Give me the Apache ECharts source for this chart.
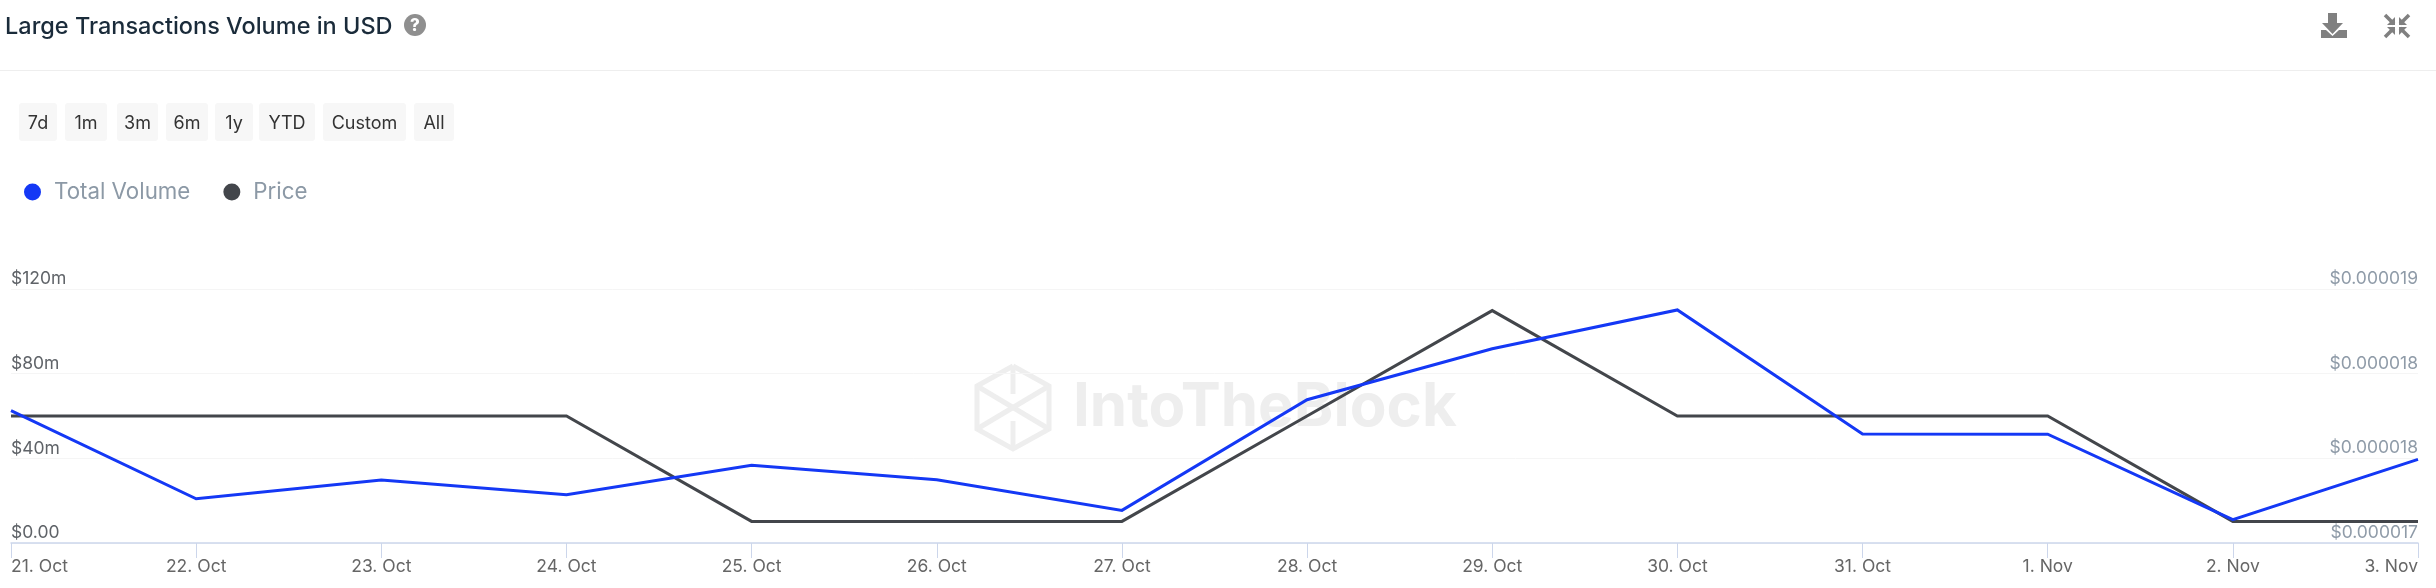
<!DOCTYPE html>
<html>
<head>
<meta charset="utf-8">
<title>Large Transactions Volume in USD</title>
<script src="https://cdn.jsdelivr.net/npm/echarts@6/dist/echarts.min.js"></script>
<style>
  html, body { margin: 0; padding: 0; background: #fff; }
  #main { width: 2436px; height: 588px; }
</style>
</head>
<body>
<div id="main"></div>
<script>
const days = ['21. Oct', '22. Oct', '23. Oct', '24. Oct', '25. Oct', '26. Oct', '27. Oct', '28. Oct', '29. Oct', '30. Oct', '31. Oct', '1. Nov', '2. Nov', '3. Nov'];
const totalVolume = [62.5, 20.9, 29.8, 22.8, 36.7, 29.9, 15.4, 67.7, 91.8, 110.1, 51.5, 51.4, 11.0, 39.5];
const price = [0.000018, 0.000018, 0.000018, 0.000018, 0.00001717, 0.00001717, 0.00001717, 0.000018, 0.00001883, 0.000018, 0.000018, 0.000018, 0.00001717, 0.00001717];
const priceTicks = [0.000017, 0.00001767, 0.00001833, 0.000019];
const ranges = ['7d', '1m', '3m', '6m', '1y', 'YTD', 'Custom', 'All'];
const rangeLeft = [19, 65, 117, 166, 215, 259, 323, 414];
const rangeRight = [57, 107, 158, 208, 253, 315, 406, 454];

const FONT = 'Inter';
const BLUE = '#1438f5';
const DARK = '#43464b';

const chart = echarts.init(document.getElementById('main'), null, { renderer: 'canvas' });

// range buttons, only decoration
const buttons = [];
ranges.forEach((r, i) => {
  buttons.push({
    type: 'rect', z: 1,
    shape: { x: rangeLeft[i], y: 103, width: rangeRight[i] - rangeLeft[i], height: 38, r: 3 },
    style: { fill: '#f7f7f7' }
  });
  buttons.push({
    type: 'text', z: 2,
    x: (rangeLeft[i] + rangeRight[i]) / 2, y: 124,
    style: { text: r, font: '400 18px ' + FONT, fill: '#333', align: 'center', verticalAlign: 'middle' }
  });
});

// watermark logo
const wmLine = { stroke: '#eeeeee', lineWidth: 5, fill: null };
const logo = [
  [[1013, 366], [1049, 386], [1049, 429], [1013, 449], [977, 429], [977, 386], [1013, 366]],
  [[977, 386], [1049, 429]],
  [[977, 429], [1049, 386]],
  [[1013, 366], [1013, 394]],
  [[1013, 421], [1013, 449]]
].map(points => ({ type: 'polyline', z: 0, silent: true, shape: { points }, style: wmLine }));

// header icons
const icons = [
  { type: 'circle', shape: { cx: 415, cy: 25, r: 11 }, style: { fill: '#8f8f8f' } },
  { type: 'text', x: 415, y: 26, style: { text: '?', font: '800 17px ' + FONT, fill: '#fff', align: 'center', verticalAlign: 'middle' } },
  { type: 'polygon', shape: { points: [[2328, 13], [2337, 13], [2337, 23], [2343, 23], [2332.5, 34], [2322, 23], [2328, 23]] }, style: { fill: '#808080' } },
  { type: 'polygon', shape: { points: [[2321, 30], [2326, 30], [2332.5, 36], [2339, 30], [2347, 30], [2347, 38], [2321, 38]] }, style: { fill: '#808080' } }
];
[[2385, 15, 2394, 24], [2409, 15, 2400, 24], [2385, 37, 2394, 28], [2409, 37, 2400, 28]].forEach(a => {
  const sx = a[2] > a[0] ? 1 : -1;
  const sy = a[3] > a[1] ? 1 : -1;
  icons.push({ type: 'line', shape: { x1: a[0], y1: a[1], x2: a[2], y2: a[3] }, style: { stroke: '#808080', lineWidth: 3.5 } });
  icons.push({ type: 'polygon', shape: { points: [[a[2] + sx, a[3] + sy], [a[2] + sx, a[3] - 7 * sy], [a[2] - 7 * sx, a[3] + sy]] }, style: { fill: '#808080' } });
});

chart.setOption({
  animation: false,
  backgroundColor: '#fff',
  textStyle: { fontFamily: FONT },
  title: {
    text: 'Large Transactions Volume in USD',
    left: 5, top: 12,
    padding: 0,
    textStyle: { fontFamily: FONT, fontSize: 23.5, fontWeight: 500, color: '#1a2b3a', lineHeight: 29 }
  },
  legend: {
    left: 24, top: 181,
    padding: 0,
    icon: 'circle',
    itemWidth: 17, itemHeight: 17,
    itemGap: 33,
    data: ['Total Volume', 'Price'],
    textStyle: { fontFamily: FONT, fontSize: 22.3, color: '#8c99a6', padding: [0, 0, 0, 8] }
  },
  grid: { left: 11, right: 18, top: 289, bottom: 45 },
  xAxis: {
    type: 'category',
    boundaryGap: false,
    data: days,
    axisLine: { lineStyle: { color: '#ccd6eb', width: 1.5 } },
    axisTick: { length: 15, lineStyle: { color: '#ccd6eb' } },
    axisLabel: {
      interval: 0, margin: 15,
      fontFamily: FONT, fontSize: 17.5, color: '#666',
      alignMinLabel: 'left', alignMaxLabel: 'right'
    },
    splitLine: { show: false }
  },
  yAxis: [
    {
      type: 'value',
      min: 0, max: 120, interval: 40,
      axisLine: { show: false },
      axisTick: { show: false },
      axisLabel: {
        inside: true, margin: 0,
        verticalAlign: 'bottom', lineHeight: 20,
        fontFamily: FONT, fontSize: 17.5, color: '#5f6368',
        formatter: v => v === 0 ? '$0.00' : '$' + v + 'm'
      },
      splitLine: { lineStyle: { color: '#f5f5f5', width: 1 } }
    },
    {
      type: 'value',
      position: 'right',
      min: 0.000017, max: 0.000019,
      axisLine: { show: false },
      axisTick: { show: false },
      axisLabel: {
        inside: true, margin: 0,
        customValues: priceTicks,
        verticalAlign: 'bottom', lineHeight: 20,
        fontFamily: FONT, fontSize: 17.5, color: '#8f9ba8',
        formatter: v => '$' + v.toFixed(6)
      },
      splitLine: { show: false }
    }
  ],
  graphic: buttons.concat(logo, icons, [
    { type: 'rect', shape: { x: 0, y: 70, width: 2436, height: 1 }, style: { fill: '#eeeeee' } },
    {
      type: 'text', z: 0, silent: true, x: 1073, y: 408,
      style: { text: 'IntoTheBlock', font: '700 60px ' + FONT, fill: '#eeeeee', align: 'left', verticalAlign: 'middle' }
    }
  ]),
  series: [
    {
      name: 'Price', type: 'line', yAxisIndex: 1,
      data: price, symbol: 'none', silent: true, z: 2,
      lineStyle: { color: DARK, width: 3, join: 'miter' },
      itemStyle: { color: DARK }
    },
    {
      name: 'Total Volume', type: 'line', yAxisIndex: 0,
      data: totalVolume, symbol: 'none', silent: true, z: 3,
      lineStyle: { color: BLUE, width: 3, join: 'miter' },
      itemStyle: { color: BLUE }
    }
  ]
});
</script>
</body>
</html>
